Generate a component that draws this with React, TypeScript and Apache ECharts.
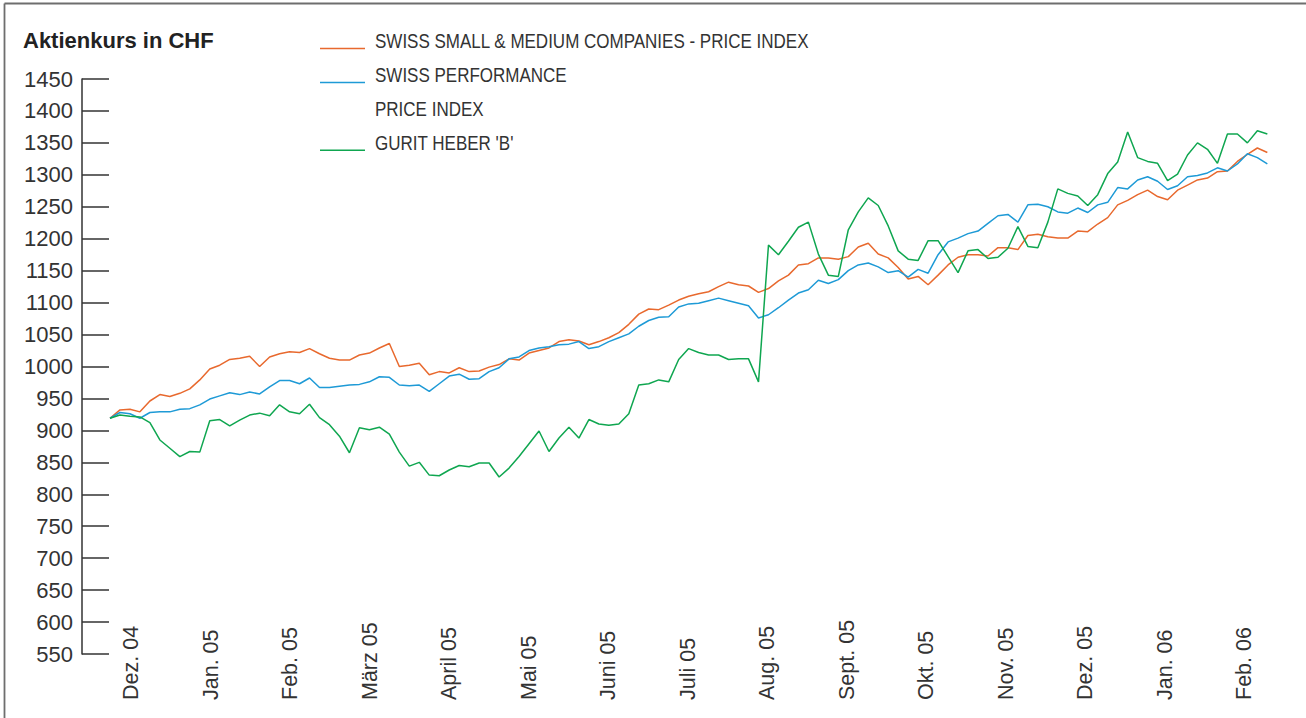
import React, { useEffect, useRef } from "react";
import * as echarts from "echarts";

// Month labels on the x axis (month units, Dez. 04 = 0)
const monthLabels = [
  "Dez. 04", "Jan. 05", "Feb. 05", "März 05", "April 05", "Mai 05", "Juni 05",
  "Juli 05", "Aug. 05", "Sept. 05", "Okt. 05", "Nov. 05", "Dez. 05", "Jan. 06", "Feb. 06",
];

// Sampling grid of the series (in months from Dez. 04)
const SAMPLE_START = -0.264;
const SAMPLE_STEP = 0.12547;

// Y axis range
const Y_MIN = 550;
const Y_MAX = 1450;
const Y_STEP = 50;

const seriesNames = [
  "SWISS SMALL & MEDIUM COMPANIES - PRICE INDEX",
  "SWISS PERFORMANCE PRICE INDEX",
  "GURIT HEBER 'B'",
];
const legendRows = [
  ["SWISS SMALL & MEDIUM COMPANIES - PRICE INDEX"],
  ["SWISS PERFORMANCE", "PRICE INDEX"],
  ["GURIT HEBER 'B'"],
];
const seriesColors = ["#E8692E", "#1E9AD6", "#0FA650"];

const smallMid = [
  919, 932, 933, 929, 946, 956, 953, 958, 965, 979,
  996, 1002, 1011, 1013, 1016, 1000, 1015, 1020, 1023, 1022,
  1028, 1020, 1013, 1010, 1010, 1018, 1021, 1029, 1036, 1000,
  1002, 1005, 987, 992, 990, 998, 992, 993, 999, 1003,
  1012, 1010, 1021, 1025, 1029, 1039, 1042, 1040, 1034, 1039,
  1045, 1053, 1066, 1082, 1090, 1089, 1096, 1104, 1110, 1114,
  1117, 1125, 1132, 1128, 1126, 1116, 1122, 1134, 1143, 1159,
  1161, 1170, 1170, 1168, 1172, 1187, 1193, 1176, 1170, 1155,
  1137, 1141, 1128, 1143, 1159, 1171, 1175, 1175, 1173, 1186,
  1186, 1183, 1205, 1207, 1203, 1201, 1201, 1212, 1211, 1223,
  1233, 1253, 1260, 1269, 1276, 1266, 1261, 1276, 1284, 1292,
  1295, 1305, 1306, 1321, 1332, 1342, 1335,
];

const swissPerformance = [
  919, 928, 926, 919, 928, 929, 929, 933, 934, 940,
  949, 954, 959, 956, 960, 957, 968, 978, 978, 973,
  982, 967, 967, 969, 971, 972, 976, 984, 983, 971,
  970, 971, 961, 973, 985, 988, 980, 981, 992, 998,
  1012, 1015, 1025, 1029, 1031, 1034, 1035, 1039, 1028, 1031,
  1039, 1045, 1051, 1063, 1072, 1077, 1078, 1093, 1098, 1099,
  1103, 1107, 1103, 1099, 1095, 1076, 1081, 1092, 1104, 1115,
  1120, 1135, 1130, 1136, 1150, 1159, 1162, 1156, 1147, 1150,
  1140, 1152, 1146, 1175, 1195, 1201, 1208, 1212, 1224, 1236,
  1238, 1226, 1253, 1254, 1250, 1242, 1240, 1248, 1241, 1253,
  1257, 1280, 1278, 1292, 1297, 1290, 1277, 1283, 1297, 1299,
  1303, 1311, 1306, 1317, 1333, 1327, 1317,
];

const guritHeber = [
  919, 924, 922, 921, 912, 885, 872, 859, 867, 866,
  915, 917, 907, 916, 924, 927, 923, 940, 929, 926,
  941, 920, 909, 891, 865, 904, 901, 905, 894, 866,
  844, 850, 830, 829, 838, 845, 843, 849, 849, 827,
  841, 859, 879, 899, 867, 888, 905, 888, 917, 910,
  908, 910, 926, 971, 973, 979, 976, 1011, 1028, 1022,
  1018, 1018, 1011, 1012, 1012, 976, 1190, 1175, 1196, 1218,
  1226, 1176, 1143, 1141, 1214, 1242, 1264, 1252, 1220, 1181,
  1168, 1166, 1197, 1197, 1172, 1147, 1181, 1183, 1169, 1171,
  1185, 1219, 1188, 1186, 1226, 1278, 1271, 1267, 1252, 1269,
  1302, 1320, 1367, 1327, 1321, 1318, 1291, 1301, 1331, 1350,
  1340, 1318, 1364, 1364, 1350, 1369, 1364,
];

const seriesValues = [smallMid, swissPerformance, guritHeber];

const FONT = '"Liberation Sans", Arial, Helvetica, sans-serif';
const TEXT = "#333333";

export default function App() {
  const ref = useRef<HTMLDivElement>(null);

  useEffect(() => {
    if (!ref.current) return;
    const chart = echarts.init(ref.current, undefined, { renderer: "svg" });

    const legendGraphics: any[] = [];
    let row = 0;
    legendRows.forEach((lines, k) => {
      const base = 48.5 + row * 33.9;
      legendGraphics.push({
        type: "line",
        shape: { x1: 320, y1: base, x2: 365, y2: base },
        style: { stroke: seriesColors[k], lineWidth: 1.5 },
        silent: true,
      });
      lines.forEach((t) => {
        const b = 48.5 + row * 33.9;
        legendGraphics.push({
          type: "text",
          x: 375,
          y: b - 7.4,
          scaleX: 0.81,
          silent: true,
          style: {
            text: t,
            x: 0,
            y: 0,
            fill: TEXT,
            fontSize: 21,
            fontFamily: FONT,
            align: "left",
            verticalAlign: "middle",
          },
        });
        row += 1;
      });
    });

    const option: any = {
      animation: false,
      backgroundColor: "#ffffff",
      grid: {
        left: 82,
        right: 22,
        top: 79,
        bottom: 64,
        containLabel: false,
        outerBoundsMode: "none",
      },
      xAxis: {
        type: "value",
        min: -0.616,
        max: 14.5,
        axisLine: { show: false, onZero: false },
        axisTick: { show: false },
        splitLine: { show: false },
        axisLabel: {
          customValues: monthLabels.map((_, i) => i),
          formatter: (v: number) => monthLabels[Math.round(v)] ?? "",
          rotate: 90,
          align: "left",
          verticalAlign: "middle",
          margin: 46,
          fontSize: 21.5,
          fontFamily: FONT,
          color: TEXT,
        },
      },
      yAxis: {
        type: "value",
        min: Y_MIN,
        max: Y_MAX,
        interval: Y_STEP,
        axisLine: { show: true, onZero: false, lineStyle: { color: TEXT, width: 1.5 } },
        axisTick: { show: true, inside: true, length: 27, lineStyle: { color: TEXT, width: 1.5 } },
        axisLabel: {
          color: TEXT,
          fontSize: 22,
          fontFamily: FONT,
          margin: 9,
          formatter: (v: number) => String(v),
        },
        splitLine: { show: false },
      },
      series: seriesValues.map((vals, k) => ({
        name: seriesNames[k],
        type: "line",
        data: vals.map((v, i) => [SAMPLE_START + i * SAMPLE_STEP, v]),
        showSymbol: false,
        symbol: "none",
        silent: true,
        lineStyle: { color: seriesColors[k], width: 1.5 },
        itemStyle: { color: seriesColors[k] },
      })),
      graphic: [
        {
          type: "line",
          shape: { x1: 4.5, y1: 3.5, x2: 1306, y2: 3.5 },
          style: { stroke: "#6e6e6e", lineWidth: 1.8 },
          silent: true,
        },
        {
          type: "line",
          shape: { x1: 4.5, y1: 3.5, x2: 4.5, y2: 718 },
          style: { stroke: "#6e6e6e", lineWidth: 1.8 },
          silent: true,
        },
        {
          type: "text",
          x: 23,
          y: 40,
          silent: true,
          style: {
            text: "Aktienkurs in CHF",
            x: 0,
            y: 0,
            fill: "#222222",
            fontSize: 22,
            fontWeight: "bold",
            fontFamily: FONT,
            align: "left",
            verticalAlign: "middle",
          },
        },
        ...legendGraphics,
      ],
    };

    chart.setOption(option);
    return () => chart.dispose();
  }, []);

  return (
    <div
      ref={ref}
      style={{ position: "fixed", left: 0, top: 0, width: 1306, height: 718, background: "#fff" }}
    />
  );
}
